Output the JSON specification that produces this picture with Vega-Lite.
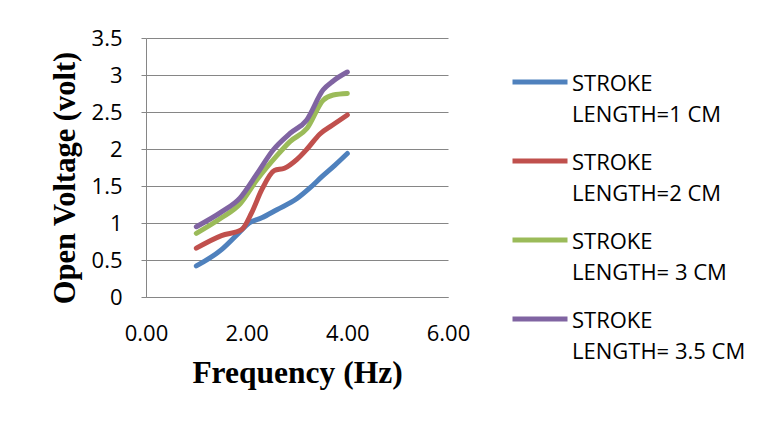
{
  "$schema": "https://vega.github.io/schema/vega-lite/v6.json",
  "width": 302,
  "height": 259,
  "autosize": {"type": "none"},
  "padding": {"left": 146, "top": 38, "right": 321, "bottom": 128},
  "background": "white",
  "config": {
    "view": {"stroke": null},
    "font": "Open Sans",
    "style": {"guide-label": {"lineHeight": 31}}
  },
  "data": {
    "values": [
      {"s": "STROKE\nLENGTH=1 CM", "f": 1, "v": 0.42},
      {"s": "STROKE\nLENGTH=1 CM", "f": 1.5, "v": 0.64},
      {"s": "STROKE\nLENGTH=1 CM", "f": 1.85, "v": 0.87},
      {"s": "STROKE\nLENGTH=1 CM", "f": 2.05, "v": 1.0},
      {"s": "STROKE\nLENGTH=1 CM", "f": 2.3, "v": 1.07},
      {"s": "STROKE\nLENGTH=1 CM", "f": 2.6, "v": 1.18},
      {"s": "STROKE\nLENGTH=1 CM", "f": 3, "v": 1.33},
      {"s": "STROKE\nLENGTH=1 CM", "f": 3.25, "v": 1.47},
      {"s": "STROKE\nLENGTH=1 CM", "f": 3.5, "v": 1.63},
      {"s": "STROKE\nLENGTH=1 CM", "f": 3.75, "v": 1.78},
      {"s": "STROKE\nLENGTH=1 CM", "f": 4, "v": 1.94},
      {"s": "STROKE\nLENGTH=2 CM", "f": 1, "v": 0.66},
      {"s": "STROKE\nLENGTH=2 CM", "f": 1.5, "v": 0.83},
      {"s": "STROKE\nLENGTH=2 CM", "f": 1.9, "v": 0.91},
      {"s": "STROKE\nLENGTH=2 CM", "f": 2.1, "v": 1.14},
      {"s": "STROKE\nLENGTH=2 CM", "f": 2.3, "v": 1.45},
      {"s": "STROKE\nLENGTH=2 CM", "f": 2.55, "v": 1.71},
      {"s": "STROKE\nLENGTH=2 CM", "f": 2.75, "v": 1.74},
      {"s": "STROKE\nLENGTH=2 CM", "f": 3, "v": 1.86},
      {"s": "STROKE\nLENGTH=2 CM", "f": 3.2, "v": 2.0},
      {"s": "STROKE\nLENGTH=2 CM", "f": 3.45, "v": 2.2},
      {"s": "STROKE\nLENGTH=2 CM", "f": 3.7, "v": 2.32},
      {"s": "STROKE\nLENGTH=2 CM", "f": 4, "v": 2.46},
      {"s": "STROKE\nLENGTH= 3 CM", "f": 1, "v": 0.86},
      {"s": "STROKE\nLENGTH= 3 CM", "f": 1.5, "v": 1.07},
      {"s": "STROKE\nLENGTH= 3 CM", "f": 1.87, "v": 1.26},
      {"s": "STROKE\nLENGTH= 3 CM", "f": 2.2, "v": 1.58},
      {"s": "STROKE\nLENGTH= 3 CM", "f": 2.6, "v": 1.91},
      {"s": "STROKE\nLENGTH= 3 CM", "f": 2.86, "v": 2.1},
      {"s": "STROKE\nLENGTH= 3 CM", "f": 3.2, "v": 2.28},
      {"s": "STROKE\nLENGTH= 3 CM", "f": 3.52, "v": 2.66},
      {"s": "STROKE\nLENGTH= 3 CM", "f": 3.72, "v": 2.73},
      {"s": "STROKE\nLENGTH= 3 CM", "f": 4, "v": 2.75},
      {"s": "STROKE\nLENGTH= 3.5 CM", "f": 1, "v": 0.95},
      {"s": "STROKE\nLENGTH= 3.5 CM", "f": 1.5, "v": 1.15},
      {"s": "STROKE\nLENGTH= 3.5 CM", "f": 1.87, "v": 1.34},
      {"s": "STROKE\nLENGTH= 3.5 CM", "f": 2.2, "v": 1.66},
      {"s": "STROKE\nLENGTH= 3.5 CM", "f": 2.53, "v": 1.99},
      {"s": "STROKE\nLENGTH= 3.5 CM", "f": 2.86, "v": 2.21},
      {"s": "STROKE\nLENGTH= 3.5 CM", "f": 3.19, "v": 2.39},
      {"s": "STROKE\nLENGTH= 3.5 CM", "f": 3.52, "v": 2.8},
      {"s": "STROKE\nLENGTH= 3.5 CM", "f": 3.72, "v": 2.92},
      {"s": "STROKE\nLENGTH= 3.5 CM", "f": 4, "v": 3.04}
    ]
  },
  "mark": {"type": "line", "interpolate": "monotone", "strokeWidth": 5, "strokeCap": "round", "strokeJoin": "round"},
  "encoding": {
    "x": {
      "field": "f", "type": "quantitative",
      "scale": {"domain": [0, 6], "nice": false, "zero": false},
      "axis": {
        "values": [0, 2, 4, 6], "format": ".2f", "grid": false,
        "ticks": false, "tickSize": 0,
        "domainColor": "#868686", "domainWidth": 1,
        "labelFont": "Open Sans", "labelFontSize": 22, "labelColor": "black",
        "labelBaseline": "alphabetic", "labelPadding": 43, "labelFlush": false,
        "title": "Frequency (Hz)", "titleFont": "Liberation Serif", "titleFontSize": 31.5,
        "titleFontWeight": "bold", "titleColor": "black",
        "titleBaseline": "alphabetic", "titleY": 85
      }
    },
    "y": {
      "field": "v", "type": "quantitative",
      "scale": {"domain": [0, 3.5], "nice": false},
      "axis": {
        "values": [0, 0.5, 1, 1.5, 2, 2.5, 3, 3.5], "format": "~g",
        "grid": true, "gridColor": "#868686", "gridWidth": 1,
        "domainColor": "#868686", "domainWidth": 1,
        "ticks": true, "tickSize": 5, "tickColor": "#868686",
        "labelFont": "Open Sans", "labelFontSize": 22, "labelColor": "black",
        "labelPadding": 19, "labelFlush": false,
        "title": "Open Voltage (volt)", "titleFont": "Liberation Serif", "titleFontSize": 30.5,
        "titleFontWeight": "bold", "titleColor": "black",
        "titleAngle": -90, "titleAlign": "center", "titleBaseline": "middle",
        "titleX": -81, "titleY": 139.5
      }
    },
    "color": {
      "field": "s", "type": "nominal",
      "scale": {
        "domain": ["STROKE\nLENGTH=1 CM", "STROKE\nLENGTH=2 CM", "STROKE\nLENGTH= 3 CM", "STROKE\nLENGTH= 3.5 CM"],
        "range": ["#4F81BD", "#C0504D", "#9BBB59", "#8064A2"]
      },
      "legend": {
        "title": null, "orient": "none", "legendX": 364, "legendY": 14,
        "padding": 0, "symbolType": "stroke", "symbolSize": 3025, "symbolStrokeWidth": 5,
        "labelFont": "Open Sans", "labelFontSize": 22, "labelColor": "black",
        "labelOffset": 2, "labelLimit": 300, "rowPadding": 5,
        "labelExpr": "split(datum.label, '\\n')",
        "labelBaseline": "top",
        "encode": {"labels": {"update": {"dy": {"value": -8}}}}
      }
    }
  }
}
